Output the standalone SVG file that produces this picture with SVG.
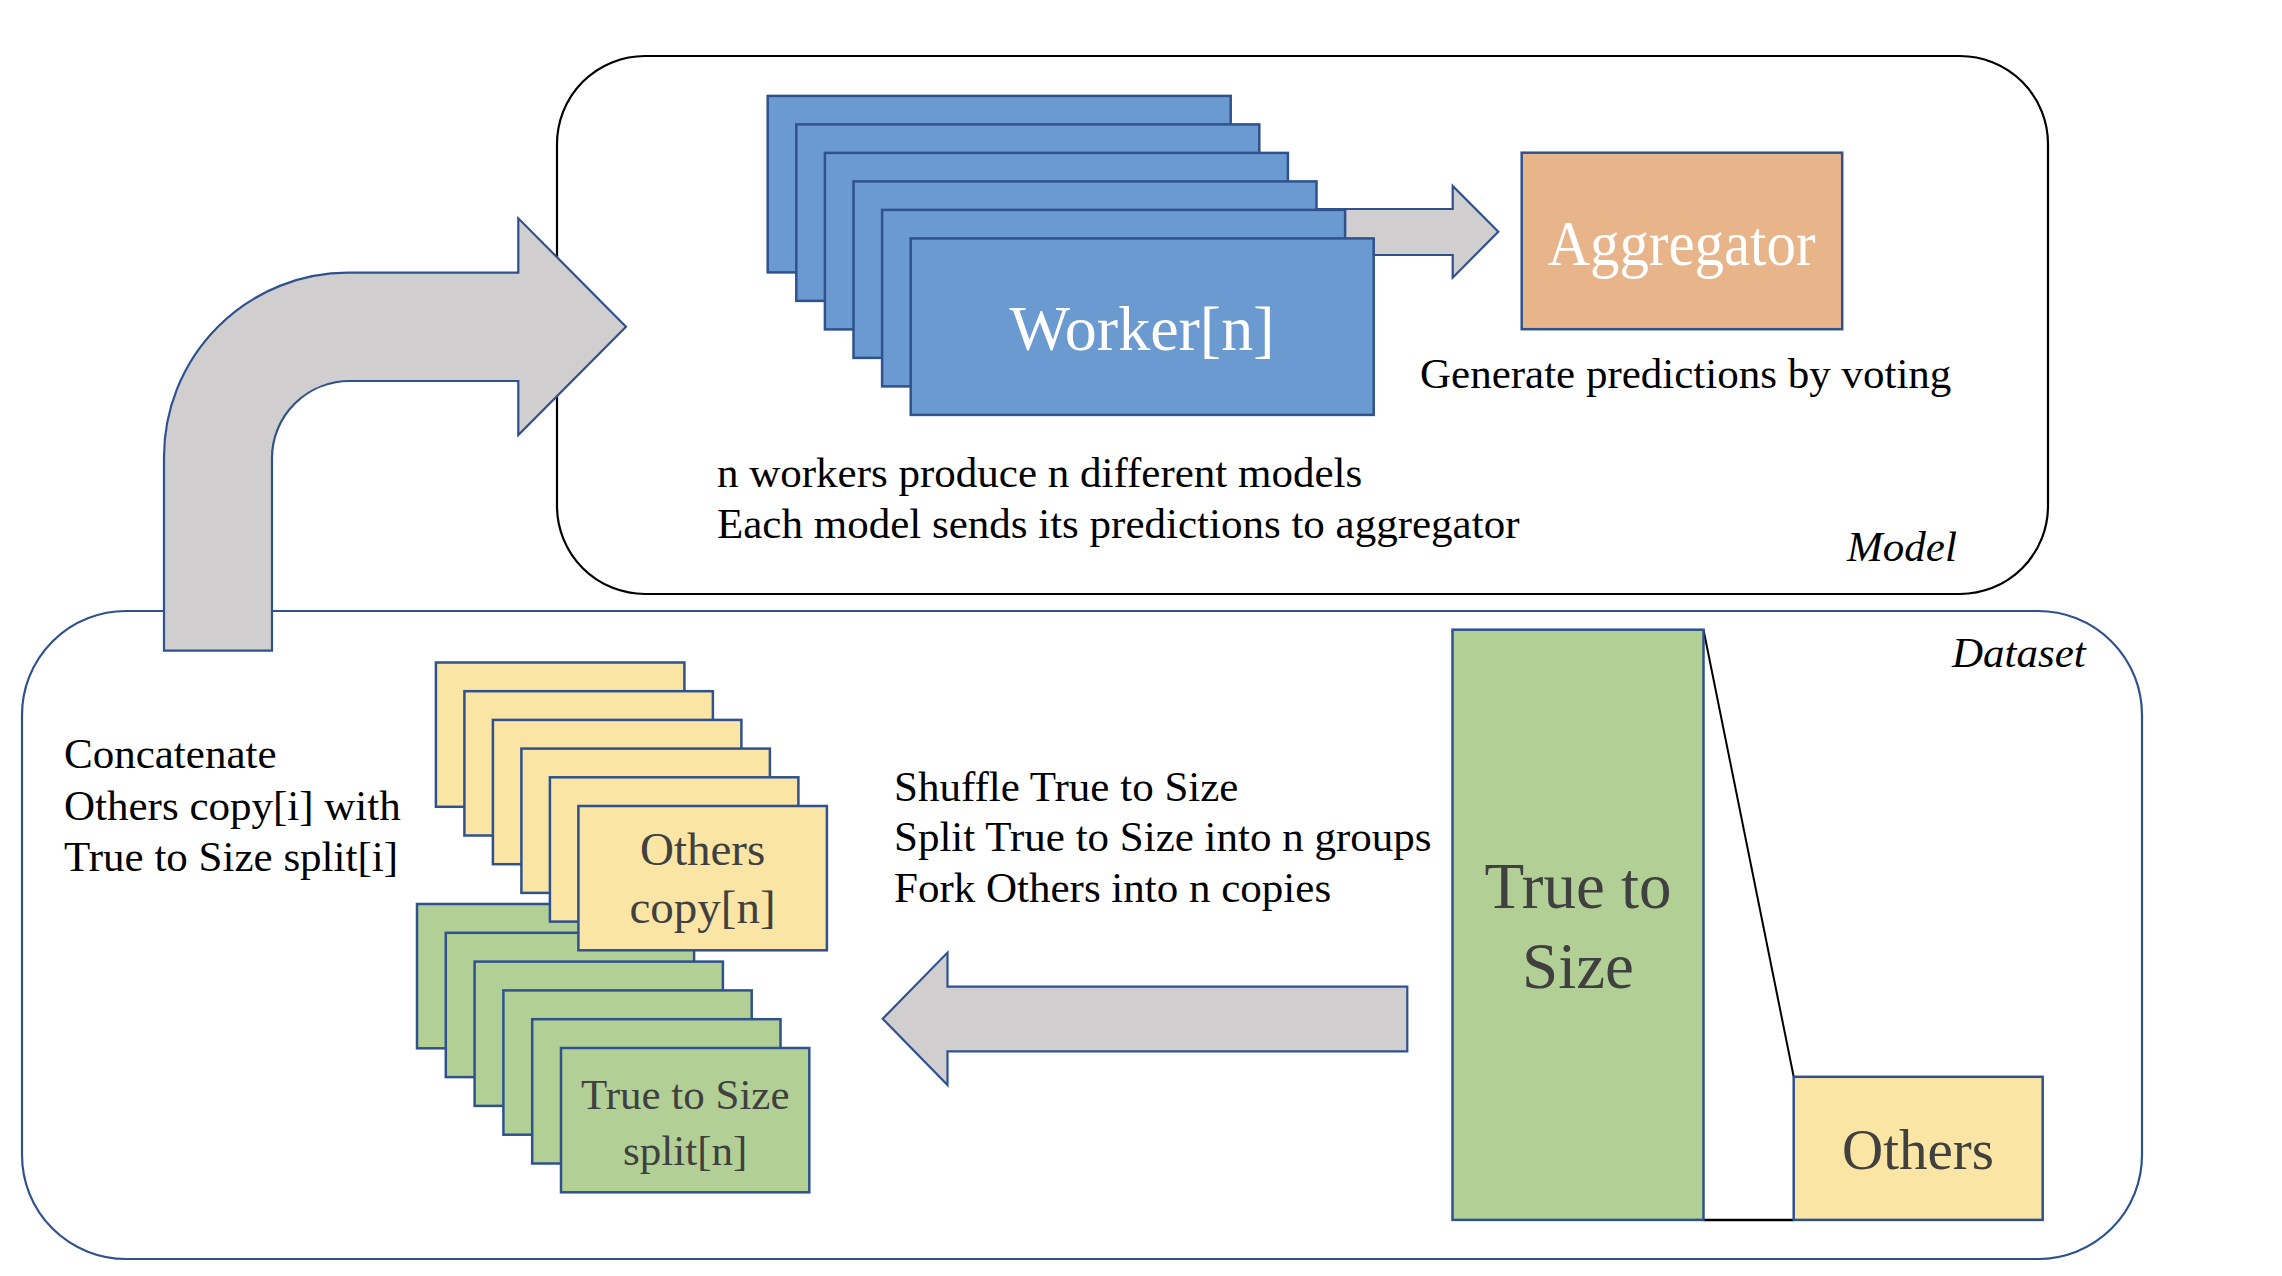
<svg xmlns="http://www.w3.org/2000/svg" width="2282" height="1276" viewBox="0 0 2282 1276">
<style>
  text { font-family: "Liberation Serif", "Times New Roman", serif; }
  .body { font-size: 43px; fill: #000000; }
  .ital { font-size: 43px; font-style: italic; fill: #000000; }
  .frame-model { fill: #ffffff; stroke: #000000; stroke-width: 2.2; }
  .frame-data { fill: #ffffff; stroke: #2F528F; stroke-width: 2.2; }
  .worker { fill: #6A9ACF; stroke: #2F528F; stroke-width: 2.5; }
  .agg { fill: #E8B48A; stroke: #2F528F; stroke-width: 2.5; }
  .yel { fill: #FAE5A4; stroke: #2F528F; stroke-width: 2.5; }
  .grn { fill: #B2D096; stroke: #2F528F; stroke-width: 2.5; }
  .arrow { fill: #D0CECE; stroke: #2F528F; stroke-width: 2.2; stroke-linejoin: miter; }
  .wtext { fill: #FFFFFF; text-anchor: middle; }
  .gtext { fill: #404040; text-anchor: middle; }
</style>

<!-- Frames -->
<g id="model-frame">
  <rect class="frame-model" x="557" y="56" width="1491" height="538" rx="88" ry="88"/>
  <text class="ital" x="1847" y="561">Model</text>
</g>
<g id="dataset-frame">
  <rect class="frame-data" x="22" y="611" width="2120" height="648" rx="104" ry="104"/>
  <text class="ital" x="1952" y="667">Dataset</text>
</g>

<!-- Connectors -->
<g id="connectors">
  <polygon class="arrow" points="1300,209 1452.7,209 1452.7,186 1498.3,231.7 1452.7,277.7 1452.7,255 1300,255"/>
  <polygon class="arrow" points="882.7,1018.8 947.5,952.6 947.5,986.7 1407.3,986.7 1407.3,1051.4 947.5,1051.4 947.5,1085"/>
  <line x1="1703.5" y1="629.7" x2="1793.7" y2="1076.8" stroke="#000000" stroke-width="2"/>
  <line x1="1703.5" y1="1219.9" x2="1793.7" y2="1219.9" stroke="#000000" stroke-width="2.5"/>
</g>

<!-- Workers stack -->
<g id="workers">
  <rect class="worker" x="767.7" y="95.9" width="463" height="176.5"/>
  <rect class="worker" x="796.3" y="124.4" width="463" height="176.5"/>
  <rect class="worker" x="824.9" y="152.9" width="463" height="176.5"/>
  <rect class="worker" x="853.5" y="181.4" width="463" height="176.5"/>
  <rect class="worker" x="882.1" y="209.9" width="463" height="176.5"/>
  <rect class="worker" x="910.7" y="238.4" width="463" height="176.5"/>
  <text class="wtext" x="1142" y="350" font-size="64">Worker[n]</text>
</g>
<g id="workers-caption">
  <text class="body" x="717" y="487">n workers produce n different models</text>
  <text class="body" x="717" y="538">Each model sends its predictions to aggregator</text>
</g>

<!-- Aggregator -->
<g id="aggregator">
  <rect class="agg" x="1521.7" y="152.7" width="320.5" height="176.5"/>
  <text class="wtext" x="1681.5" y="265" font-size="64" textLength="268" lengthAdjust="spacingAndGlyphs">Aggregator</text>
</g>
<g id="aggregator-caption">
  <text class="body" x="1420" y="388">Generate predictions by voting</text>
</g>

<!-- Dataset: True to Size / Others -->
<g id="true-to-size">
  <rect class="grn" x="1452.5" y="629.7" width="251" height="590.2"/>
  <text class="gtext" x="1578" y="908" font-size="65">True to</text>
  <text class="gtext" x="1578" y="988" font-size="65">Size</text>
</g>
<g id="others">
  <rect class="yel" x="1793.7" y="1076.8" width="249" height="143.1"/>
  <text class="gtext" x="1918" y="1169" font-size="57">Others</text>
</g>

<g id="split-caption">
  <text class="body" x="894" y="801">Shuffle True to Size</text>
  <text class="body" x="894" y="851">Split True to Size into n groups</text>
  <text class="body" x="894" y="902">Fork Others into n copies</text>
</g>

<!-- Green split stack -->
<g id="splits">
  <rect class="grn" x="417" y="904" width="248.3" height="144.3"/>
  <rect class="grn" x="445.8" y="932.8" width="248.3" height="144.3"/>
  <rect class="grn" x="474.6" y="961.6" width="248.3" height="144.3"/>
  <rect class="grn" x="503.4" y="990.4" width="248.3" height="144.3"/>
  <rect class="grn" x="532.2" y="1019.2" width="248.3" height="144.3"/>
  <rect class="grn" x="561" y="1048" width="248.3" height="144.3"/>
  <text class="gtext" x="685.2" y="1108.8" font-size="43">True to Size</text>
  <text class="gtext" x="685.2" y="1164.7" font-size="43">split[n]</text>
</g>

<!-- Yellow copy stack -->
<g id="copies">
  <rect class="yel" x="435.9" y="662.5" width="248.5" height="144.3"/>
  <rect class="yel" x="464.4" y="691.2" width="248.5" height="144.3"/>
  <rect class="yel" x="492.9" y="719.9" width="248.5" height="144.3"/>
  <rect class="yel" x="521.4" y="748.6" width="248.5" height="144.3"/>
  <rect class="yel" x="549.9" y="777.3" width="248.5" height="144.3"/>
  <rect class="yel" x="578.4" y="806" width="248.5" height="144.3"/>
  <text class="gtext" x="702.6" y="865" font-size="47">Others</text>
  <text class="gtext" x="702.6" y="923.3" font-size="47">copy[n]</text>
</g>

<g id="concat-caption">
  <text class="body" x="64" y="768">Concatenate</text>
  <text class="body" x="64" y="820">Others copy[i] with</text>
  <text class="body" x="64" y="871">True to Size split[i]</text>
</g>

<!-- Bent arrow from dataset to model -->
<g id="bent-arrow">
  <path class="arrow" d="M 164 650.7 L 164 457 A 184.3 184.3 0 0 1 348.3 272.7 L 518.3 272.7 L 518.3 218.3 L 626 326.7 L 518.3 435 L 518.3 381 L 350 381 A 78 77 0 0 0 272 458 L 272 650.7 Z"/>
</g>
</svg>
